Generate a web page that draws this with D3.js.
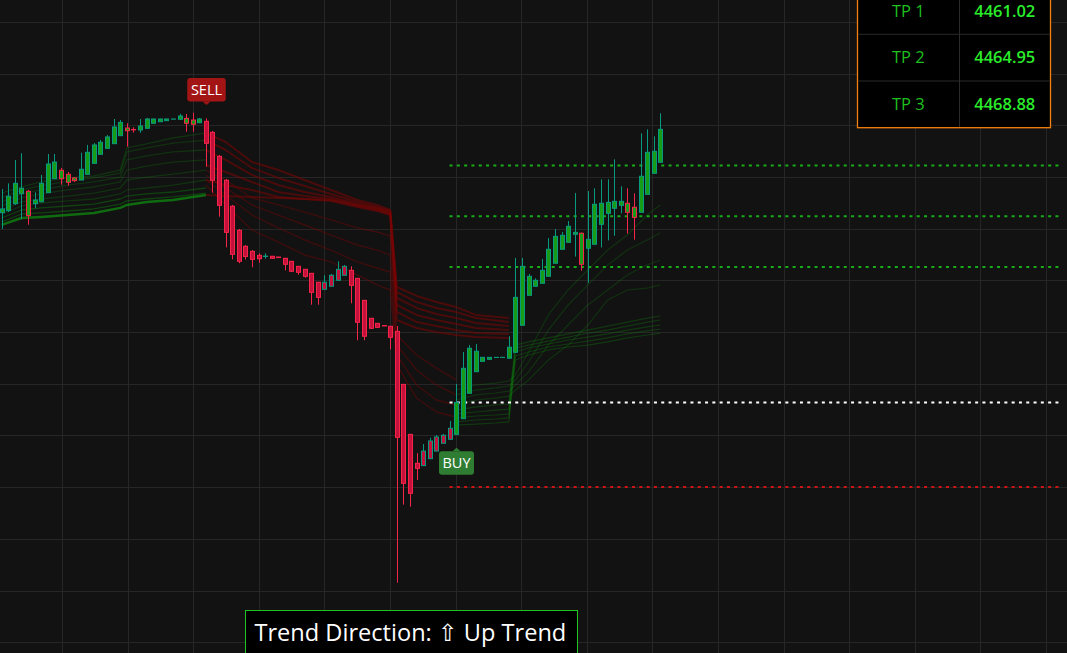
<!DOCTYPE html>
<html><head><meta charset="utf-8">
<script src="https://cdn.jsdelivr.net/npm/d3@7"></script>
<style>html,body{margin:0;padding:0;background:#121212;overflow:hidden}</style>
</head><body>
<svg id="c" width="1067" height="653"></svg>
<script>
// ---------- DATA ----------
const openP = [4465.23,4465.39,4465.93,4466.70,4466.89,4465.93,4466.08,4466.78,4467.86,4468.51,
4468.20,4467.92,4467.76,4468.20,4469.05,4469.75,4470.21,4470.57,4471.19,4471.78,
4471.67,4471.63,4471.76,4472.15,4472.27,4472.35,4472.47,4472.46,4472.53,4472.40,
4472.19,4472.30,4471.45,4469.59,4467.74,4465.73,4463.87,4462.63,4462.24,4461.93,
4461.84,4461.86,4461.80,4461.70,4461.47,4461.08,4460.85,4460.54,4459.85,4459.30,
4459.54,4460.00,4460.39,4460.77,4460.15,4458.45,4457.06,4456.67,4456.50,4456.44,
4456.05,4451.95,4448.08,4445.84,4445.66,4446.20,4446.79,4447.39,4447.70,4448.08,
4449.29,4451.26,4452.93,4453.73,4453.89,4454.03,4454.03,4453.97,4454.43,4456.52,
4458.84,4459.54,4459.77,4460.31,4461.32,4462.40,4462.94,4463.56,4463.64,4462.48,
4462.79,4464.33,4465.18,4465.57,4465.80,4465.96,4465.65,4465.26,4466.65,4468.28,
4469.13];
const highP = [4467.06,4467.50,4469.31,4469.83,4466.99,4466.81,4468.15,4469.77,4469.77,4468.69,
4468.38,4467.99,4469.87,4470.47,4470.62,4470.86,4471.24,4472.48,4472.40,4472.15,
4471.84,4472.48,4472.56,4472.52,4472.50,4472.50,4472.49,4472.87,4472.87,4472.97,
4472.56,4472.53,4471.55,4469.69,4467.84,4465.83,4463.97,4462.73,4462.34,4462.09,
4462.09,4461.88,4461.81,4461.73,4461.49,4461.10,4460.87,4460.56,4459.87,4460.39,
4460.49,4461.47,4461.18,4461.08,4460.18,4458.47,4457.08,4456.69,4456.51,4456.46,
4456.46,4451.97,4448.10,4446.62,4447.33,4447.82,4448.03,4448.11,4449.11,4451.98,
4454.45,4454.99,4455.07,4454.06,4454.06,4454.05,4454.05,4455.67,4461.73,4461.73,
4460.49,4460.15,4461.65,4463.27,4463.97,4463.74,4464.59,4466.75,4463.70,4466.91,
4467.12,4467.81,4467.81,4469.36,4467.27,4467.12,4466.73,4471.37,4471.68,4471.14,
4472.92];
const lowP = [4463.97,4465.28,4465.83,4464.72,4464.30,4465.57,4466.02,4466.75,4467.84,4467.40,
4467.32,4467.61,4467.74,4468.19,4469.04,4469.73,4470.20,4470.57,4471.16,4470.34,
4471.42,4471.42,4471.74,4472.13,4472.26,4472.34,4472.46,4472.44,4471.50,4471.50,
4472.17,4468.79,4466.78,4464.92,4462.55,4461.62,4461.32,4461.61,4461.01,4461.36,
4461.67,4461.68,4461.75,4460.77,4460.64,4460.43,4460.20,4458.11,4458.11,4459.29,
4459.52,4459.98,4460.37,4458.22,4455.36,4455.36,4456.23,4456.34,4456.46,4454.66,
4436.60,4442.64,4442.48,4444.55,4445.63,4446.17,4446.77,4447.37,4447.68,4448.06,
4449.27,4451.24,4452.91,4453.71,4453.87,4454.02,4454.02,4453.95,4454.41,4456.50,
4458.82,4459.52,4459.75,4460.29,4461.30,4462.38,4462.92,4461.83,4460.74,4459.81,
4462.77,4462.55,4463.09,4463.45,4465.18,4463.61,4463.14,4465.25,4466.64,4468.26,
4469.11];
const closeP = [4465.52,4466.50,4467.50,4467.12,4465.00,4466.21,4467.50,4469.00,4469.15,4467.86,
4467.58,4467.71,4468.59,4469.90,4470.47,4470.68,4471.09,4471.86,4472.22,4471.57,
4471.64,4471.94,4472.48,4472.48,4472.48,4472.48,4472.48,4472.71,4472.15,4472.07,
4472.48,4470.60,4467.74,4465.80,4463.71,4462.01,4461.47,4461.84,4461.62,4461.67,
4461.87,4461.70,4461.76,4461.24,4460.70,4460.62,4460.31,4459.07,4458.68,4459.85,
4460.39,4460.85,4461.08,4459.61,4456.75,4455.67,4456.29,4456.36,4456.47,4455.59,
4447.85,4444.29,4443.52,4445.45,4446.79,4447.57,4447.88,4448.01,4448.55,4450.55,
4453.19,4454.74,4454.51,4454.04,4454.04,4454.04,4454.04,4454.82,4458.68,4461.08,
4460.31,4460.00,4460.77,4462.40,4463.40,4463.48,4464.18,4463.71,4461.24,4463.17,
4465.88,4465.96,4466.03,4466.11,4466.11,4465.26,4464.87,4468.05,4469.90,4469.98,
4471.68];

const signalBars = [31, 69];
const signalTypes = ["SELL", "BUY"];

const tpNames = ["TP 1", "TP 2", "TP 3"];
const tpValues = [4461.02, 4464.95, 4468.88];
const entryPrice = 4450.55;
const stopPrice = 4444.00;
const levelStartBar = 68;
const levelEndBar = 160.7;
const trendText = "Trend Direction: \u21E7 Up Trend";

// ribbon (trailing bands) sampled values
const ribbonUpABars = [0,3,6,10,14,18,19,22,26,31];
const ribbonUpA = [
 [4464.28,4464.82,4464.90,4465.05,4465.21,4465.60,4465.83,4466.06,4466.21,4466.60],
 [4464.51,4465.13,4465.21,4465.36,4465.52,4465.90,4466.14,4466.29,4466.45,4466.75],
 [4464.82,4465.44,4465.60,4465.75,4465.90,4466.29,4466.52,4466.68,4466.83,4467.14],
 [4465.13,4465.75,4465.98,4466.14,4466.29,4466.68,4466.99,4467.14,4467.37,4467.76],
 [4465.44,4466.06,4466.29,4466.52,4466.75,4467.14,4467.76,4467.99,4468.22,4468.53],
 [4465.75,4466.37,4466.68,4466.99,4467.22,4467.61,4468.53,4468.84,4469.15,4469.31],
 [4466.06,4466.68,4466.99,4467.37,4467.61,4467.99,4469.31,4469.62,4469.93,4470.08],
 [4466.37,4466.99,4467.30,4467.68,4467.92,4468.30,4469.93,4470.24,4470.62,4470.85],
 [4466.75,4467.22,4467.61,4467.92,4468.07,4468.53,4470.24,4470.55,4471.01,4471.40]
];
const ribbonDownBars = [31,34,38,42,46,50,54,57,59,60,63,66,69,72,77];
const ribbonDown = [
 [4471.40,4470.70,4469.15,4468.53,4467.76,4466.99,4466.21,4465.83,4465.44,4459.48,4458.79,4458.32,4457.93,4457.32,4457.08],
 [4470.85,4470.08,4468.69,4467.92,4467.30,4466.68,4466.06,4465.67,4465.36,4459.09,4458.32,4457.86,4457.55,4457.08,4456.77],
 [4470.08,4469.31,4468.15,4467.37,4466.83,4466.45,4465.90,4465.60,4465.28,4458.63,4457.86,4457.39,4457.08,4456.70,4456.46],
 [4468.92,4468.38,4467.61,4466.83,4466.52,4466.29,4465.83,4465.52,4465.21,4458.09,4457.32,4456.93,4456.62,4456.31,4456.15],
 [4467.76,4467.37,4466.99,4466.45,4466.29,4466.21,4465.75,4465.44,4465.13,4457.55,4456.77,4456.46,4456.15,4455.92,4455.85],
 [4466.60,4466.52,4466.45,4466.37,4466.29,4466.14,4465.67,4465.36,4465.05,4456.93,4456.31,4456.00,4455.77,4455.61,4455.54],
 [4468.53,4467.76,4466.37,4465.83,4465.28,4464.67,4464.05,4463.74,4463.43,4455.77,4454.22,4453.21,4452.29,null,null],
 [4468.15,4467.14,4465.83,4465.05,4464.28,4463.50,4462.73,4462.34,4461.96,4454.99,4453.06,4451.90,4451.13,null,null],
 [4467.76,4466.60,4465.05,4464.05,4463.12,4462.34,4461.42,4460.95,4460.64,4454.22,4451.90,4450.74,4450.35,null,null],
 [4467.37,4465.83,4463.89,4462.96,4461.96,4461.42,4460.41,4459.64,4459.25,4453.45,4450.89,4449.81,4449.42,null,null]
];
const ribbonUpCBars = [69,72,75,77,78,80,83,86,89,92,95,98,100];
const ribbonUpC = [
 [4448.80,4448.88,4448.96,4449.04,4453.83,4454.22,4454.61,4454.84,4454.99,4455.23,4455.54,4455.77,4455.92],
 [4449.04,4449.19,4449.27,4449.35,4454.14,4454.45,4454.84,4455.07,4455.30,4455.54,4455.85,4456.08,4456.23],
 [4449.35,4449.50,4449.58,4449.66,4454.45,4454.76,4455.07,4455.38,4455.61,4455.85,4456.15,4456.39,4456.54],
 [4449.66,4449.81,4449.96,4450.04,4454.76,4454.99,4455.30,4455.61,4455.92,4456.15,4456.46,4456.77,4456.93],
 [4449.96,4450.20,4450.35,4450.43,4454.99,4455.23,4455.54,4455.85,4456.15,4456.46,4456.77,4457.08,4457.24],
 [4450.35,4450.74,4450.89,4451.04,4451.51,4452.29,4453.83,4454.99,4456.54,4458.48,4459.25,4459.40,4459.64],
 [4450.74,4451.13,4451.28,4451.43,4451.90,4452.91,4454.99,4456.54,4458.09,4459.25,4460.41,4461.18,4461.57],
 [4451.13,4451.51,4451.67,4451.82,4452.29,4453.68,4456.15,4458.09,4459.64,4461.18,4462.34,4463.12,4463.66],
 [4451.51,4451.90,4452.05,4452.21,4452.67,4454.45,4457.32,4459.25,4460.80,4462.34,4463.50,4465.05,4465.83]
];

// ---------- DRAW ----------
const W = 1067, H = 653;
const svg = d3.select("#c");
const x = d3.scaleLinear().domain([0, 100]).range([1.7, 660.3]);
const y = d3.scaleLinear().domain([4432, 4480]).range([642.2, 21.8]);

const C = {
  bg: "#121212", grid: "#262626",
  bullFill: "#169c16", bearFill: "#c4103a",
  bullLine: "#089981", bearLine: "#f7254a",
  ribGreen: "#0f8a0f", ribRed: "#7a0606",
  tp: "#18ad18", entry: "#ffffff", sl: "#cc1616"
};

svg.append("rect").attr("width", W).attr("height", H).attr("fill", C.bg);

// grid
const gridG = svg.append("g").attr("shape-rendering", "crispEdges");
gridG.selectAll(".gh").data(d3.range(4428, 4484.1, 4)).join("line")
  .attr("x1", 0).attr("x2", W)
  .attr("y1", d => Math.round(y(d)) + 0.5).attr("y2", d => Math.round(y(d)) + 0.5)
  .attr("stroke", C.grid).attr("stroke-width", 1);
gridG.selectAll(".gv").data(d3.range(-0.805, 170, 9.961)).join("line")
  .attr("y1", 0).attr("y2", H)
  .attr("x1", d => Math.round(x(d)) + 0.5).attr("x2", d => Math.round(x(d)) + 0.5)
  .attr("stroke", C.grid).attr("stroke-width", 1);

// trend per bar
function trendAt(i) {
  let t = "up";
  signalBars.forEach((b, k) => { if (i >= b) t = signalTypes[k] === "BUY" ? "up" : "down"; });
  return t;
}

// ribbons
const lineGen = d3.line().defined(d => d[1] != null).x(d => x(d[0])).y(d => y(d[1]));
function drawRibbon(bars, lines, color, opFn, wFn) {
  const g = svg.append("g").attr("fill", "none");
  lines.forEach((vals, k) => {
    g.append("path").datum(bars.map((b, j) => [b, vals[j]]))
      .attr("d", lineGen).attr("stroke", color)
      .attr("stroke-opacity", opFn(k)).attr("stroke-width", wFn(k))
      .attr("stroke-linejoin", "round");
  });
}
drawRibbon(ribbonUpABars, ribbonUpA, C.ribGreen, k => k === 0 ? 0.75 : (k < 3 ? 0.4 : 0.26), k => k === 0 ? 2.4 : 1.3);
drawRibbon(ribbonDownBars, ribbonDown, C.ribRed, k => k < 6 ? 0.55 : 0.42, k => k < 6 ? 2 : 1.4);
drawRibbon(ribbonUpCBars, ribbonUpC, C.ribGreen, k => k < 5 ? 0.32 : 0.26, k => 1.2);

// level lines
const levels = tpValues.map(v => ({ v, c: C.tp }))
  .concat([{ v: entryPrice, c: C.entry }, { v: stopPrice, c: C.sl }]);
svg.append("g").selectAll("line").data(levels).join("line")
  .attr("x1", x(levelStartBar)).attr("x2", x(levelEndBar))
  .attr("y1", d => y(d.v)).attr("y2", d => y(d.v))
  .attr("stroke", d => d.c).attr("stroke-width", 2)
  .attr("stroke-dasharray", "3 4.3");

// candles
const bars = d3.range(openP.length).map(i => ({
  i, o: openP[i], h: highP[i], l: lowP[i], c: closeP[i],
  bull: closeP[i] >= openP[i], t: trendAt(i)
}));
const cg = svg.append("g");
cg.selectAll(".wick").data(bars).join("line")
  .attr("x1", d => Math.round(x(d.i)) + 0.5).attr("x2", d => Math.round(x(d.i)) + 0.5)
  .attr("y1", d => y(d.h)).attr("y2", d => y(d.l))
  .attr("stroke", d => d.bull ? C.bullLine : C.bearLine).attr("stroke-width", 1);
cg.selectAll(".body").data(bars).join("rect")
  .attr("x", d => Math.round(x(d.i)) - 1.5).attr("width", 4)
  .attr("y", d => y(Math.max(d.o, d.c)))
  .attr("height", d => Math.max(0.1, Math.abs(y(d.o) - y(d.c))))
  .attr("fill", d => d.t === "up" ? C.bullFill : C.bearFill)
  .attr("stroke", d => d.bull ? C.bullLine : C.bearLine).attr("stroke-width", 1);

// signal labels
const FONT = "'Open Sans', 'DejaVu Sans', sans-serif";
signalBars.forEach((b, k) => {
  const type = signalTypes[k];
  const cx = Math.round(x(b)) + 0.5;
  const g = svg.append("g");
  const isSell = type === "SELL";
  const fill = isSell ? "#a31414" : "#2e7d32";
  const w = isSell ? 38.5 : 35, h = 23.5;
  const tipY = isSell ? y(highP[b]) - 13.3 : y(lowP[b]) + 13.2;
  const boxTop = isSell ? tipY - 3.5 - h : tipY + 3.5;
  g.append("rect").attr("x", cx - w / 2).attr("y", boxTop).attr("width", w).attr("height", h)
    .attr("rx", 3).attr("fill", fill);
  const baseY = isSell ? boxTop + h : boxTop;
  g.append("path").attr("d", `M${cx - 4},${baseY} L${cx},${tipY} L${cx + 4},${baseY} Z`).attr("fill", fill);
  g.append("text").attr("x", cx).attr("y", boxTop + h / 2 + 5)
    .attr("text-anchor", "middle").attr("fill", "#fff")
    .attr("font-family", FONT).attr("font-size", 14.5).text(type);
});

// table (top right)
const tg = svg.append("g");
const tL = 857.5, tR = 1050.5, tB = 127.7, colX = 959.5, rowH = 46.7;
tg.append("rect").attr("x", tL).attr("y", -80).attr("width", tR - tL).attr("height", tB + 80)
  .attr("fill", "#000").attr("stroke", "#f5820f").attr("stroke-width", 1.3);
tg.append("line").attr("x1", colX).attr("x2", colX).attr("y1", -80).attr("y2", tB - 0.7)
  .attr("stroke", "#2a2a2a");
[1, 2].forEach(r => {
  const yy = tB - rowH * r;
  tg.append("line").attr("x1", tL + 0.7).attr("x2", tR - 0.7).attr("y1", yy).attr("y2", yy).attr("stroke", "#2a2a2a");
});
tpNames.forEach((n, r) => {
  const cy = tB - rowH * (tpNames.length - r) + rowH / 2;
  tg.append("text").attr("x", 908.3).attr("y", cy + 5.6).attr("text-anchor", "middle")
    .attr("fill", "#1fbf1f").attr("font-family", FONT).attr("font-size", 16.5).text(n);
  tg.append("text").attr("x", 1004.8).attr("y", cy + 5.6).attr("text-anchor", "middle")
    .attr("fill", "#2bed2b").attr("font-family", FONT).attr("font-size", 16.5)
    .attr("font-weight", 600).attr("textLength", 61).attr("lengthAdjust", "spacingAndGlyphs")
    .text(tpValues[r].toFixed(2));
});

// trend direction box
const bg2 = svg.append("g");
bg2.append("rect").attr("x", 245.5).attr("y", 610.5).attr("width", 332).attr("height", 60)
  .attr("fill", "#000").attr("stroke", "#1fc41f").attr("stroke-width", 1);
const tt = bg2.append("text").attr("x", 254.5).attr("y", 640.8)
  .attr("fill", "#ffffff").attr("font-family", FONT).attr("font-size", 24).text(trendText);
const len = tt.node().getComputedTextLength();
if (len > 0 && Math.abs(len - 312) > 1) tt.attr("font-size", 24 * 312 / len);
</script>
</body></html>
